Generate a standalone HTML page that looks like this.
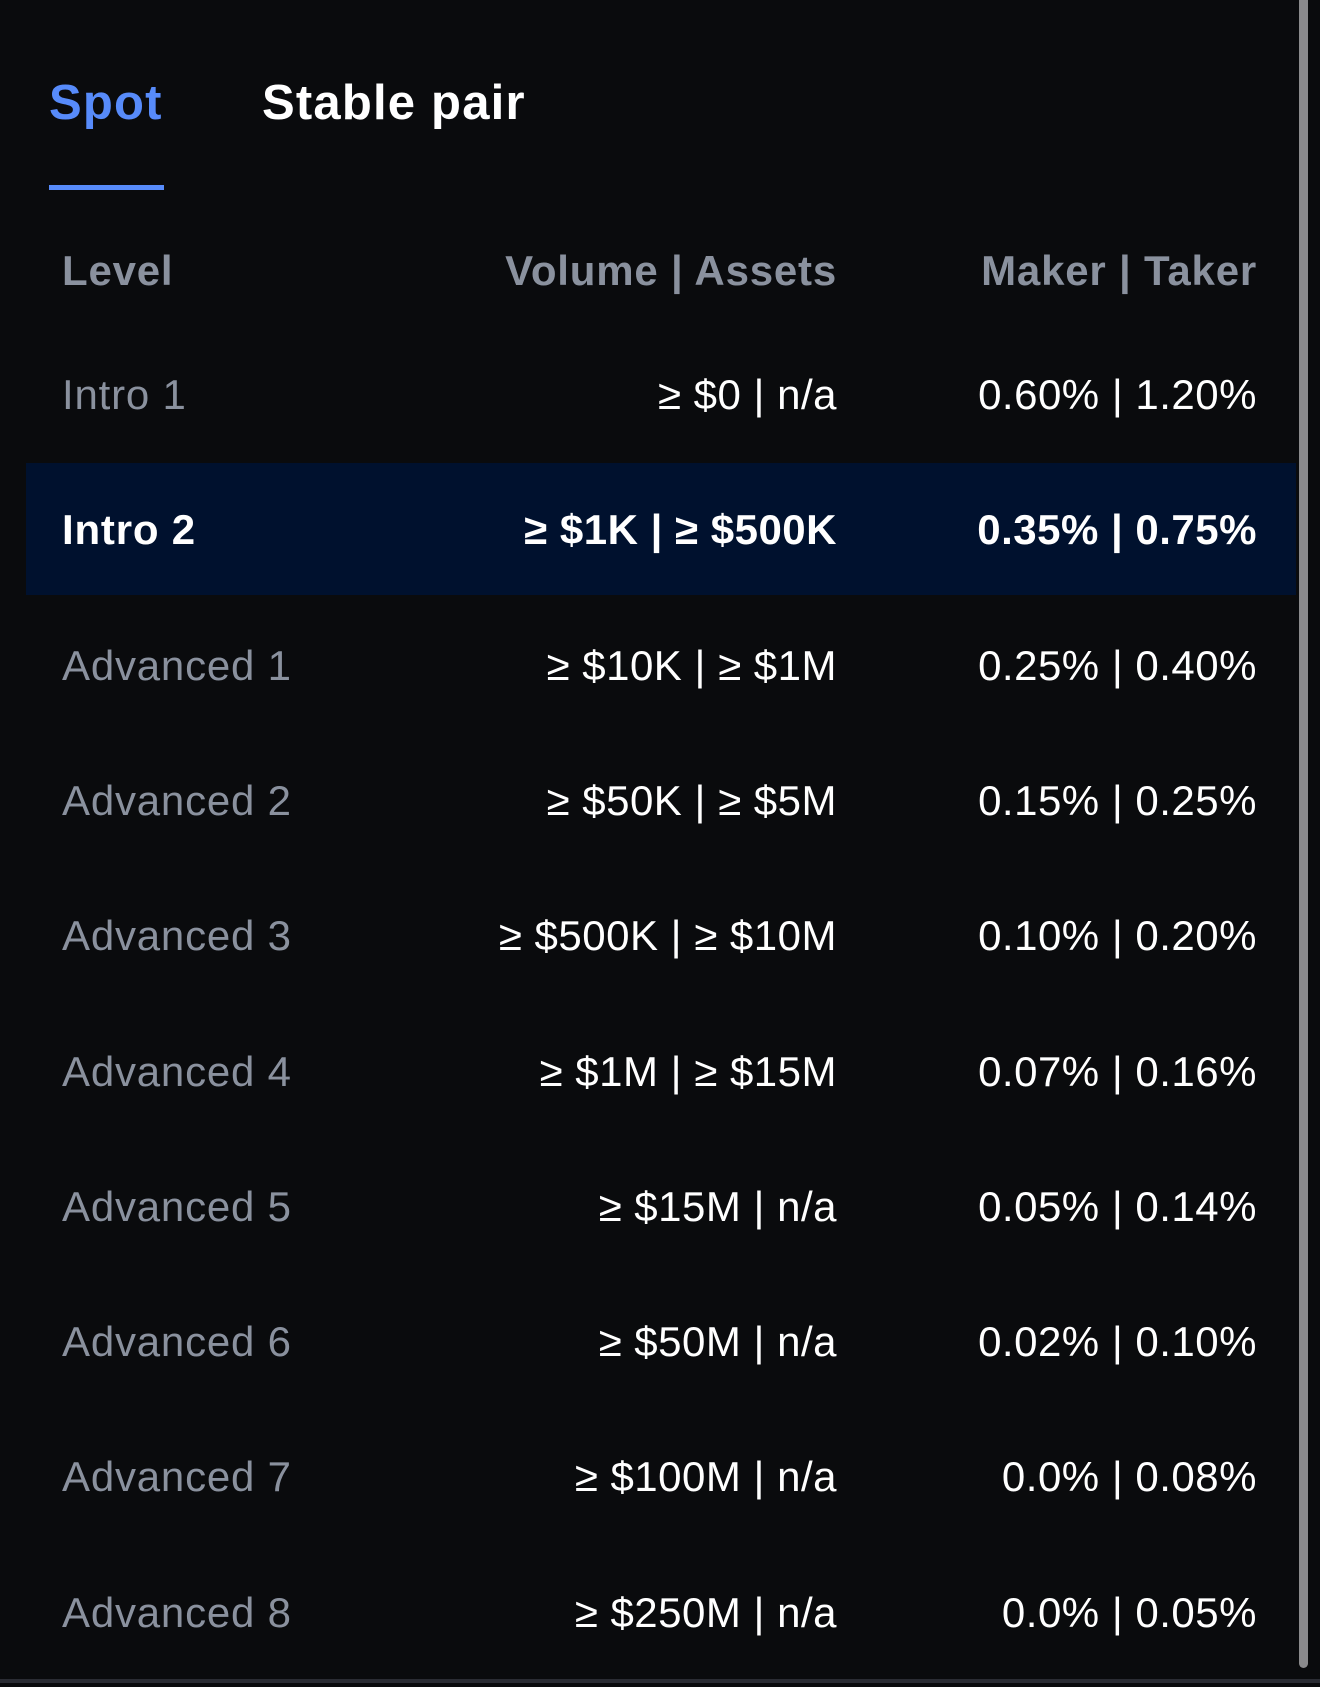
<!DOCTYPE html>
<html><head><meta charset="utf-8"><style>
html,body{margin:0;padding:0;background:#0a0b0d;}
body{width:1320px;height:1687px;position:relative;overflow:hidden;font-family:"Liberation Sans",sans-serif;}
.t{position:absolute;white-space:nowrap;line-height:1;}
.tab{font-size:49px;font-weight:bold;top:79px;letter-spacing:1.2px;}
.hd{font-size:42px;font-weight:bold;color:#8a919e;letter-spacing:0.8px;}
.lv{font-size:42px;color:#8a919e;left:62px;letter-spacing:0.8px;}
.v{font-size:42px;color:#fff;right:483px;text-align:right;letter-spacing:0.5px;}
.m{font-size:42px;color:#fff;right:63px;text-align:right;letter-spacing:0.5px;}
.hl .lv,.hl .v,.hl .m{font-weight:bold;color:#fff;}
</style></head><body>
<div class="t tab" style="left:49px;color:#578bfa;">Spot</div>
<div class="t tab" style="left:262px;color:#fff;">Stable pair</div>
<div style="position:absolute;left:49px;top:185px;width:115px;height:5px;background:#578bfa;"></div>
<div class="t hd" style="left:62px;top:250px;">Level</div>
<div class="t hd" style="right:483px;top:250px;">Volume | Assets</div>
<div class="t hd" style="right:63px;top:250px;">Maker | Taker</div>
<div style="position:absolute;left:26px;top:463px;width:1270px;height:132px;background:#00112e;"></div>
<div style="position:absolute;left:1299px;top:0;width:9px;height:1668px;background:#8a8a8c;border-radius:0 0 5px 5px;"></div>
<div style="position:absolute;left:0;top:1679px;width:1320px;height:4px;background:#2a2c33;"></div>
<div id="rows"></div>
<script>
var d=[["Intro 1","≥ $0 | n/a","0.60% | 1.20%"],["Intro 2","≥ $1K | ≥ $500K","0.35% | 0.75%"],["Advanced 1","≥ $10K | ≥ $1M","0.25% | 0.40%"],["Advanced 2","≥ $50K | ≥ $5M","0.15% | 0.25%"],["Advanced 3","≥ $500K | ≥ $10M","0.10% | 0.20%"],["Advanced 4","≥ $1M | ≥ $15M","0.07% | 0.16%"],["Advanced 5","≥ $15M | n/a","0.05% | 0.14%"],["Advanced 6","≥ $50M | n/a","0.02% | 0.10%"],["Advanced 7","≥ $100M | n/a","0.0% | 0.08%"],["Advanced 8","≥ $250M | n/a","0.0% | 0.05%"]];
var h="";
d.forEach(function(r,i){var y=Math.round(395+i*135.3-21);
h+='<div class="'+(i==1?'hl':'')+'"><div class="t lv" style="top:'+y+'px">'+r[0]+'</div><div class="t v" style="top:'+y+'px">'+r[1]+'</div><div class="t m" style="top:'+y+'px">'+r[2]+'</div></div>';});
document.getElementById("rows").innerHTML=h;
</script>
</body></html>
